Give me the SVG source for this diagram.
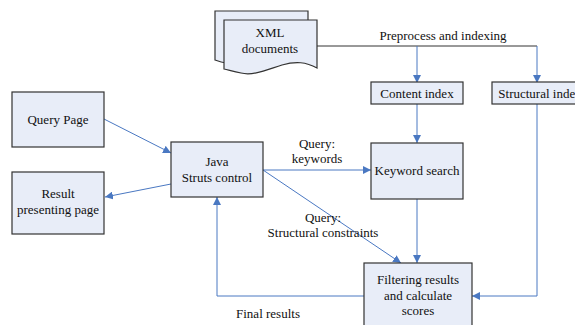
<svg xmlns="http://www.w3.org/2000/svg" width="575" height="325" viewBox="0 0 575 325">
<style>
.box{fill:#e8edf8;stroke:#333;stroke-width:1.2}
text{font-family:"Liberation Serif","Times New Roman",serif;font-size:13px;fill:#111;text-anchor:middle}
.c{fill:none;stroke:#4a78c2;stroke-width:1}
.k{fill:none;stroke:#333;stroke-width:1}
</style>
<defs>
<marker id="a" viewBox="0 0 10 10" refX="10" refY="5" markerWidth="8" markerHeight="8" markerUnits="userSpaceOnUse" orient="auto">
<path d="M0,0 L10,5 L0,10 Z" fill="#4a78c2"/>
</marker>
</defs>
<rect width="575" height="325" fill="#fff"/>
<g id="connectors">
<path class="k" d="M317,46 H537"/>
<path class="c" d="M417,46 V83" marker-end="url(#a)"/>
<path class="c" d="M537,46 V83" marker-end="url(#a)"/>
<path class="c" d="M104,119 L171,153" marker-end="url(#a)"/>
<path class="c" d="M171,184 L105,197" marker-end="url(#a)"/>
<path class="c" d="M263,170 H371" marker-end="url(#a)"/>
<path class="c" d="M263,170 L401,263" marker-end="url(#a)"/>
<path class="c" d="M417,104 V143" marker-end="url(#a)"/>
<path class="c" d="M417,199 V263" marker-end="url(#a)"/>
<path class="c" d="M537,104 V296 H472" marker-end="url(#a)"/>
<path class="c" d="M364,296 H217 V197" marker-end="url(#a)"/>
<text x="443" y="40">Preprocess and indexing</text>
<text x="317" y="148">Query:</text>
<text x="317" y="163">keywords</text>
<text x="323" y="222">Query:</text>
<text x="323" y="237">Structural constraints</text>
<text x="268" y="318">Final results</text>
</g>
<g id="xml-documents">
<path class="box" d="M215,11 H308 V57 C291,50 276,52 262,59 C248,66 232,66 215,60 Z"/>
<path class="box" d="M224,20 H317 V68 C306,62 296,61 282,65 C266,70 253,76 241,73 C233,71 228,70 224,69 Z"/>
<text x="270" y="37">XML</text>
<text x="270" y="53">documents</text>
</g>
<g id="content-index">
<rect class="box" x="371" y="82" width="92" height="22"/>
<text x="417" y="98">Content index</text>
</g>
<g id="structural-index">
<rect class="box" x="492" y="82" width="92" height="22"/>
<text x="540" y="98">Structural index</text>
</g>
<g id="query-page">
<rect class="box" x="12" y="92" width="92" height="55"/>
<text x="58" y="124">Query Page</text>
</g>
<g id="result-page">
<rect class="box" x="12" y="172" width="92" height="62"/>
<text x="58" y="198">Result</text>
<text x="58" y="214">presenting page</text>
</g>
<g id="java-struts">
<rect class="box" x="171" y="142" width="92" height="55"/>
<text x="217" y="166">Java</text>
<text x="217" y="182">Struts control</text>
</g>
<g id="keyword-search">
<rect class="box" x="371" y="143" width="92" height="56"/>
<text x="417" y="175">Keyword search</text>
</g>
<g id="filtering">
<rect class="box" x="364" y="263" width="108" height="70"/>
<text x="418" y="284">Filtering results</text>
<text x="418" y="300">and calculate</text>
<text x="418" y="315">scores</text>
</g>
</svg>
